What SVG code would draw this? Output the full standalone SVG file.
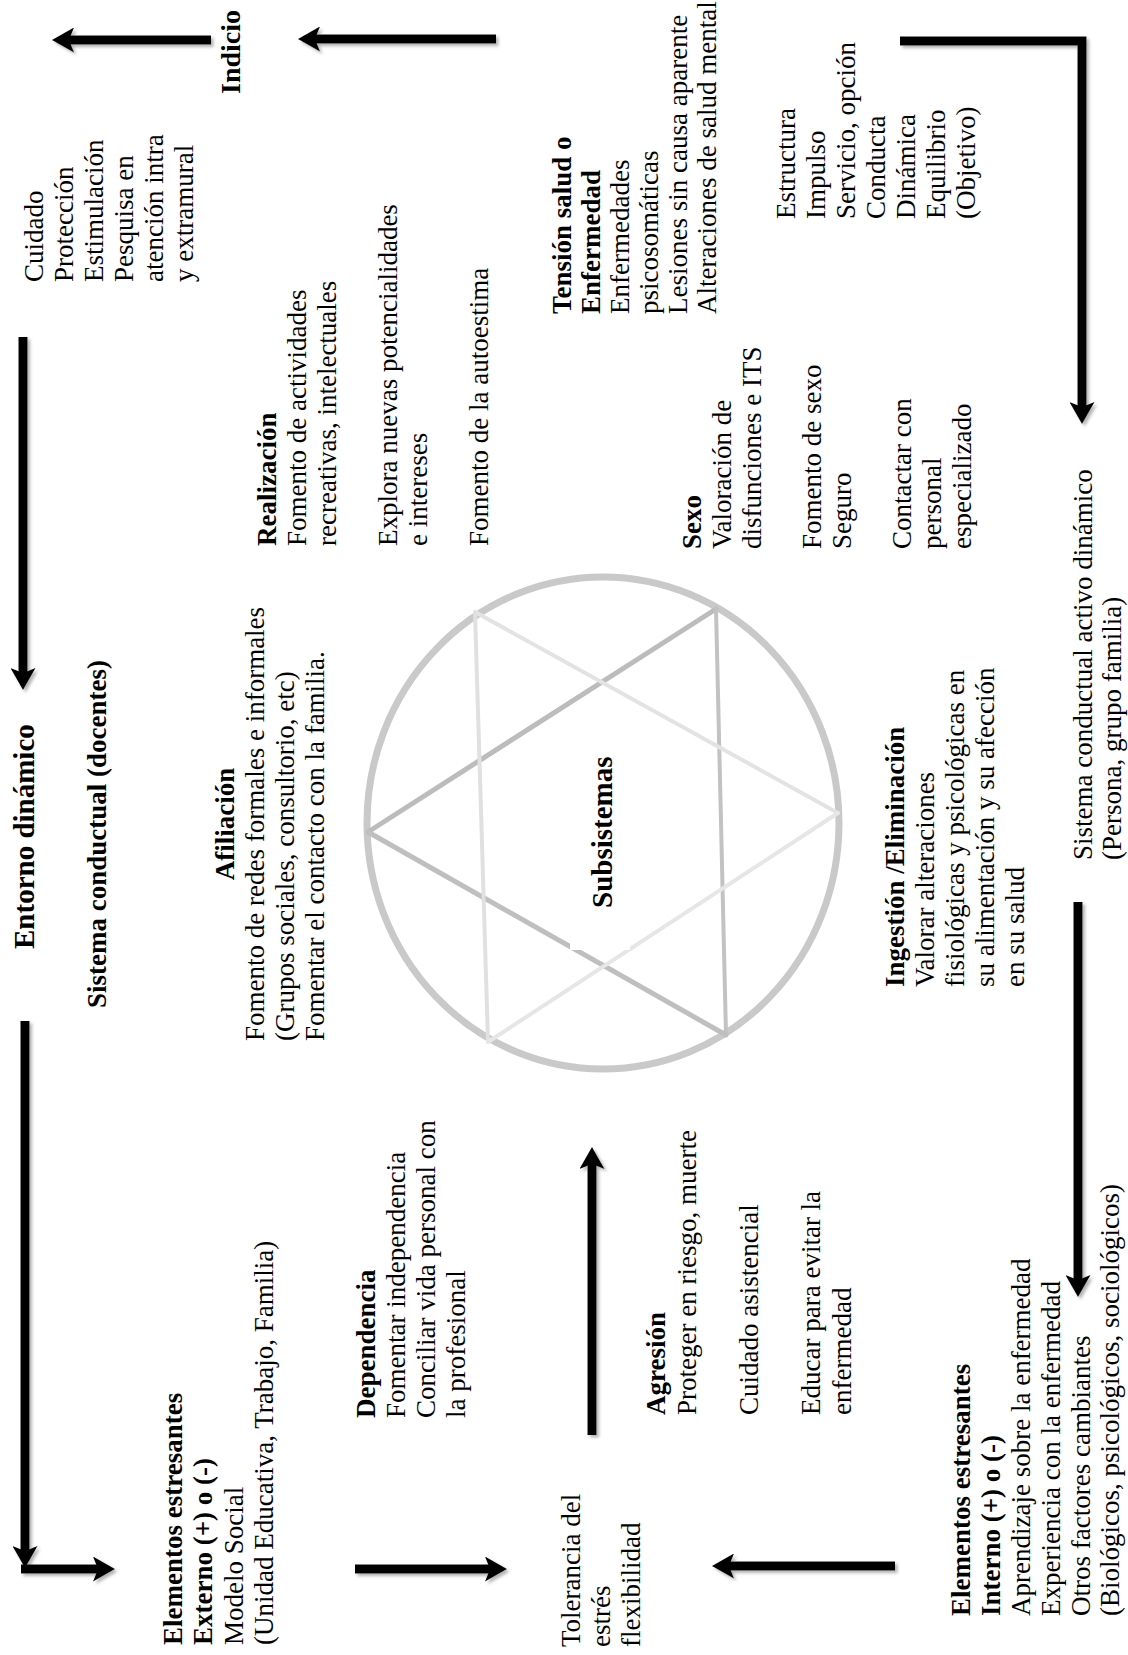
<svg xmlns="http://www.w3.org/2000/svg" width="1128" height="1655" viewBox="0 0 1128 1655">
<defs>
<marker id="ah" markerUnits="userSpaceOnUse" markerWidth="22" markerHeight="25" viewBox="0 0 22 25" refX="11" refY="12.5" orient="auto"><path d="M0,0 L22,12.5 L0,25 L5,12.5 Z" fill="#000"/></marker>
<filter id="sh" filterUnits="userSpaceOnUse" x="0" y="0" width="1128" height="1655"><feDropShadow dx="2.5" dy="2.5" stdDeviation="1.5" flood-color="#808080" flood-opacity="0.6"/></filter>
</defs>
<style>
.t{font-family:"Liberation Serif","Times New Roman",serif;font-size:27px;fill:#000}
.b{font-weight:bold}
.big{font-size:29px}
.conn{fill:none;stroke:#000;stroke-width:9;stroke-linejoin:miter;marker-end:url(#ah);filter:url(#sh)}
.star{fill:none;stroke-linecap:round}
</style>
<rect width="1128" height="1655" fill="#fff"/>

<g id="connectors">
<path class="conn" d="M211,40 L63,40"/>
<path class="conn" d="M496,39 L309,39"/>
<path class="conn" d="M900,41 L1082,41 L1082,413"/>
<path class="conn" d="M23,337 L23,679"/>
<path class="conn" d="M25,1021 L25,1557"/>
<path class="conn" d="M21,1569 L104,1569"/>
<path class="conn" d="M355,1569 L496,1569"/>
<path class="conn" d="M895,1566 L723,1566"/>
<path class="conn" d="M592,1435 L592,1158"/>
<path class="conn" d="M1078,902 L1078,1286"/>
</g>

<g id="subsistemas">
<ellipse cx="603" cy="823" rx="236" ry="246" fill="none" stroke="#c9c9c9" stroke-width="7"/>
<g class="star">
<line x1="368" y1="832" x2="716" y2="609" stroke="#bcbcbc" stroke-width="5"/>
<line x1="716" y1="609" x2="726" y2="1035" stroke="#c2c2c2" stroke-width="4"/>
<line x1="368" y1="832" x2="726" y2="1035" stroke="#bfbfbf" stroke-width="5"/>
<line x1="838" y1="813" x2="475" y2="612" stroke="#e3e3e3" stroke-width="4"/>
<line x1="475" y1="612" x2="488" y2="1042" stroke="#e0e0e0" stroke-width="4"/>
<line x1="488" y1="1042" x2="838" y2="813" stroke="#e6e6e6" stroke-width="4"/>
</g>
<rect x="570" y="927" width="60" height="23" fill="#fff"/>
<text class="t b big" transform="translate(612,908) rotate(-90)">Subsistemas</text>
</g>

<g id="indicio">
<text class="t b" style="font-size:28px" transform="translate(240,94) rotate(-90)">Indicio</text>
</g>

<g id="cuidado">
<text class="t" transform="translate(43,282) rotate(-90)"><tspan x="0" y="0">Cuidado</tspan><tspan x="0" y="30">Protección</tspan><tspan x="0" y="60">Estimulación</tspan><tspan x="0" y="90">Pesquisa en</tspan><tspan x="0" y="120">atención intra</tspan><tspan x="0" y="150">y extramural</tspan></text>
</g>

<g id="entorno">
<text class="t b big" transform="translate(34,949) rotate(-90)">Entorno dinámico</text>
</g>

<g id="sistema-docentes">
<text class="t b" transform="translate(106,1008) rotate(-90)">Sistema conductual (docentes)</text>
</g>

<g id="realizacion">
<text class="t" transform="translate(276,546) rotate(-90)"><tspan class="b" x="0" y="0">Realización</tspan><tspan x="0" y="30">Fomento de actividades</tspan><tspan x="0" y="60">recreativas, intelectuales</tspan><tspan x="0" y="121">Explora nuevas potencialidades</tspan><tspan x="0" y="151">e intereses</tspan><tspan x="0" y="212">Fomento de la autoestima</tspan></text>
</g>

<g id="afiliacion">
<text class="t b" text-anchor="middle" transform="translate(234,824) rotate(-90)">Afiliación</text>
<text class="t" transform="translate(264,1041) rotate(-90)"><tspan x="0" y="0">Fomento de redes formales e informales</tspan><tspan x="0" y="30">(Grupos sociales, consultorio, etc)</tspan><tspan x="0" y="60">Fomentar el contacto con la familia.</tspan></text>
</g>

<g id="tension">
<text class="t" transform="translate(571,314) rotate(-90)"><tspan class="b" x="0" y="0">Tensión salud o</tspan><tspan class="b" x="0" y="29">Enfermedad</tspan><tspan x="0" y="58">Enfermedades</tspan><tspan x="0" y="87">psicosomáticas</tspan><tspan x="0" y="116">Lesiones sin causa aparente</tspan><tspan x="0" y="145">Alteraciones de salud mental</tspan></text>
</g>

<g id="estructura">
<text class="t" transform="translate(795,219) rotate(-90)"><tspan x="0" y="0">Estructura</tspan><tspan x="0" y="30">Impulso</tspan><tspan x="0" y="60">Servicio, opción</tspan><tspan x="0" y="90">Conducta</tspan><tspan x="0" y="120">Dinámica</tspan><tspan x="0" y="150">Equilibrio</tspan><tspan x="0" y="180">(Objetivo)</tspan></text>
</g>

<g id="sexo">
<text class="t" transform="translate(701,549) rotate(-90)"><tspan class="b" x="0" y="0">Sexo</tspan><tspan x="0" y="30">Valoración de</tspan><tspan x="0" y="60">disfunciones e ITS</tspan><tspan x="0" y="120">Fomento de sexo</tspan><tspan x="0" y="150">Seguro</tspan><tspan x="0" y="210">Contactar con</tspan><tspan x="0" y="240">personal</tspan><tspan x="0" y="270">especializado</tspan></text>
</g>

<g id="sistema-activo">
<text class="t" transform="translate(1092,860) rotate(-90)"><tspan x="0" y="0">Sistema conductual activo dinámico</tspan><tspan x="0" y="29">(Persona, grupo familia)</tspan></text>
</g>

<g id="ingestion">
<text class="t" transform="translate(904,987) rotate(-90)"><tspan class="b" x="0" y="0">Ingestión /Eliminación</tspan><tspan x="0" y="30">Valorar alteraciones</tspan><tspan x="0" y="60">fisiológicas y psicológicas en</tspan><tspan x="0" y="90">su alimentación y su afección</tspan><tspan x="0" y="120">en su salud</tspan></text>
</g>

<g id="dependencia">
<text class="t" transform="translate(375,1418) rotate(-90)"><tspan class="b" x="0" y="0">Dependencia</tspan><tspan x="0" y="30">Fomentar independencia</tspan><tspan x="0" y="60">Conciliar vida personal con</tspan><tspan x="0" y="90">la profesional</tspan></text>
</g>

<g id="elementos-externo">
<text class="t" transform="translate(182,1645) rotate(-90)"><tspan class="b" x="0" y="0">Elementos estresantes</tspan><tspan class="b" x="0" y="30">Externo (+) o (-)</tspan><tspan x="0" y="61">Modelo Social</tspan><tspan x="0" y="91">(Unidad Educativa, Trabajo, Familia)</tspan></text>
</g>

<g id="agresion">
<text class="t" transform="translate(665,1415) rotate(-90)"><tspan class="b" x="0" y="0">Agresión</tspan><tspan x="0" y="31">Proteger en riesgo, muerte</tspan><tspan x="0" y="93">Cuidado asistencial</tspan><tspan x="0" y="155">Educar para evitar la</tspan><tspan x="0" y="186">enfermedad</tspan></text>
</g>

<g id="tolerancia">
<text class="t" transform="translate(580,1647) rotate(-90)"><tspan x="0" y="0">Tolerancia del</tspan><tspan x="0" y="30">estrés</tspan><tspan x="0" y="60">flexibilidad</tspan></text>
</g>

<g id="elementos-interno">
<text class="t" transform="translate(970,1616) rotate(-90)"><tspan class="b" x="0" y="0">Elementos estresantes</tspan><tspan class="b" x="0" y="30">Interno (+) o (-)</tspan><tspan x="0" y="60">Aprendizaje sobre la enfermedad</tspan><tspan x="0" y="90">Experiencia con la enfermedad</tspan><tspan x="0" y="120">Otros factores cambiantes</tspan><tspan x="0" y="149">(Biológicos, psicológicos, sociológicos)</tspan></text>
</g>
</svg>
